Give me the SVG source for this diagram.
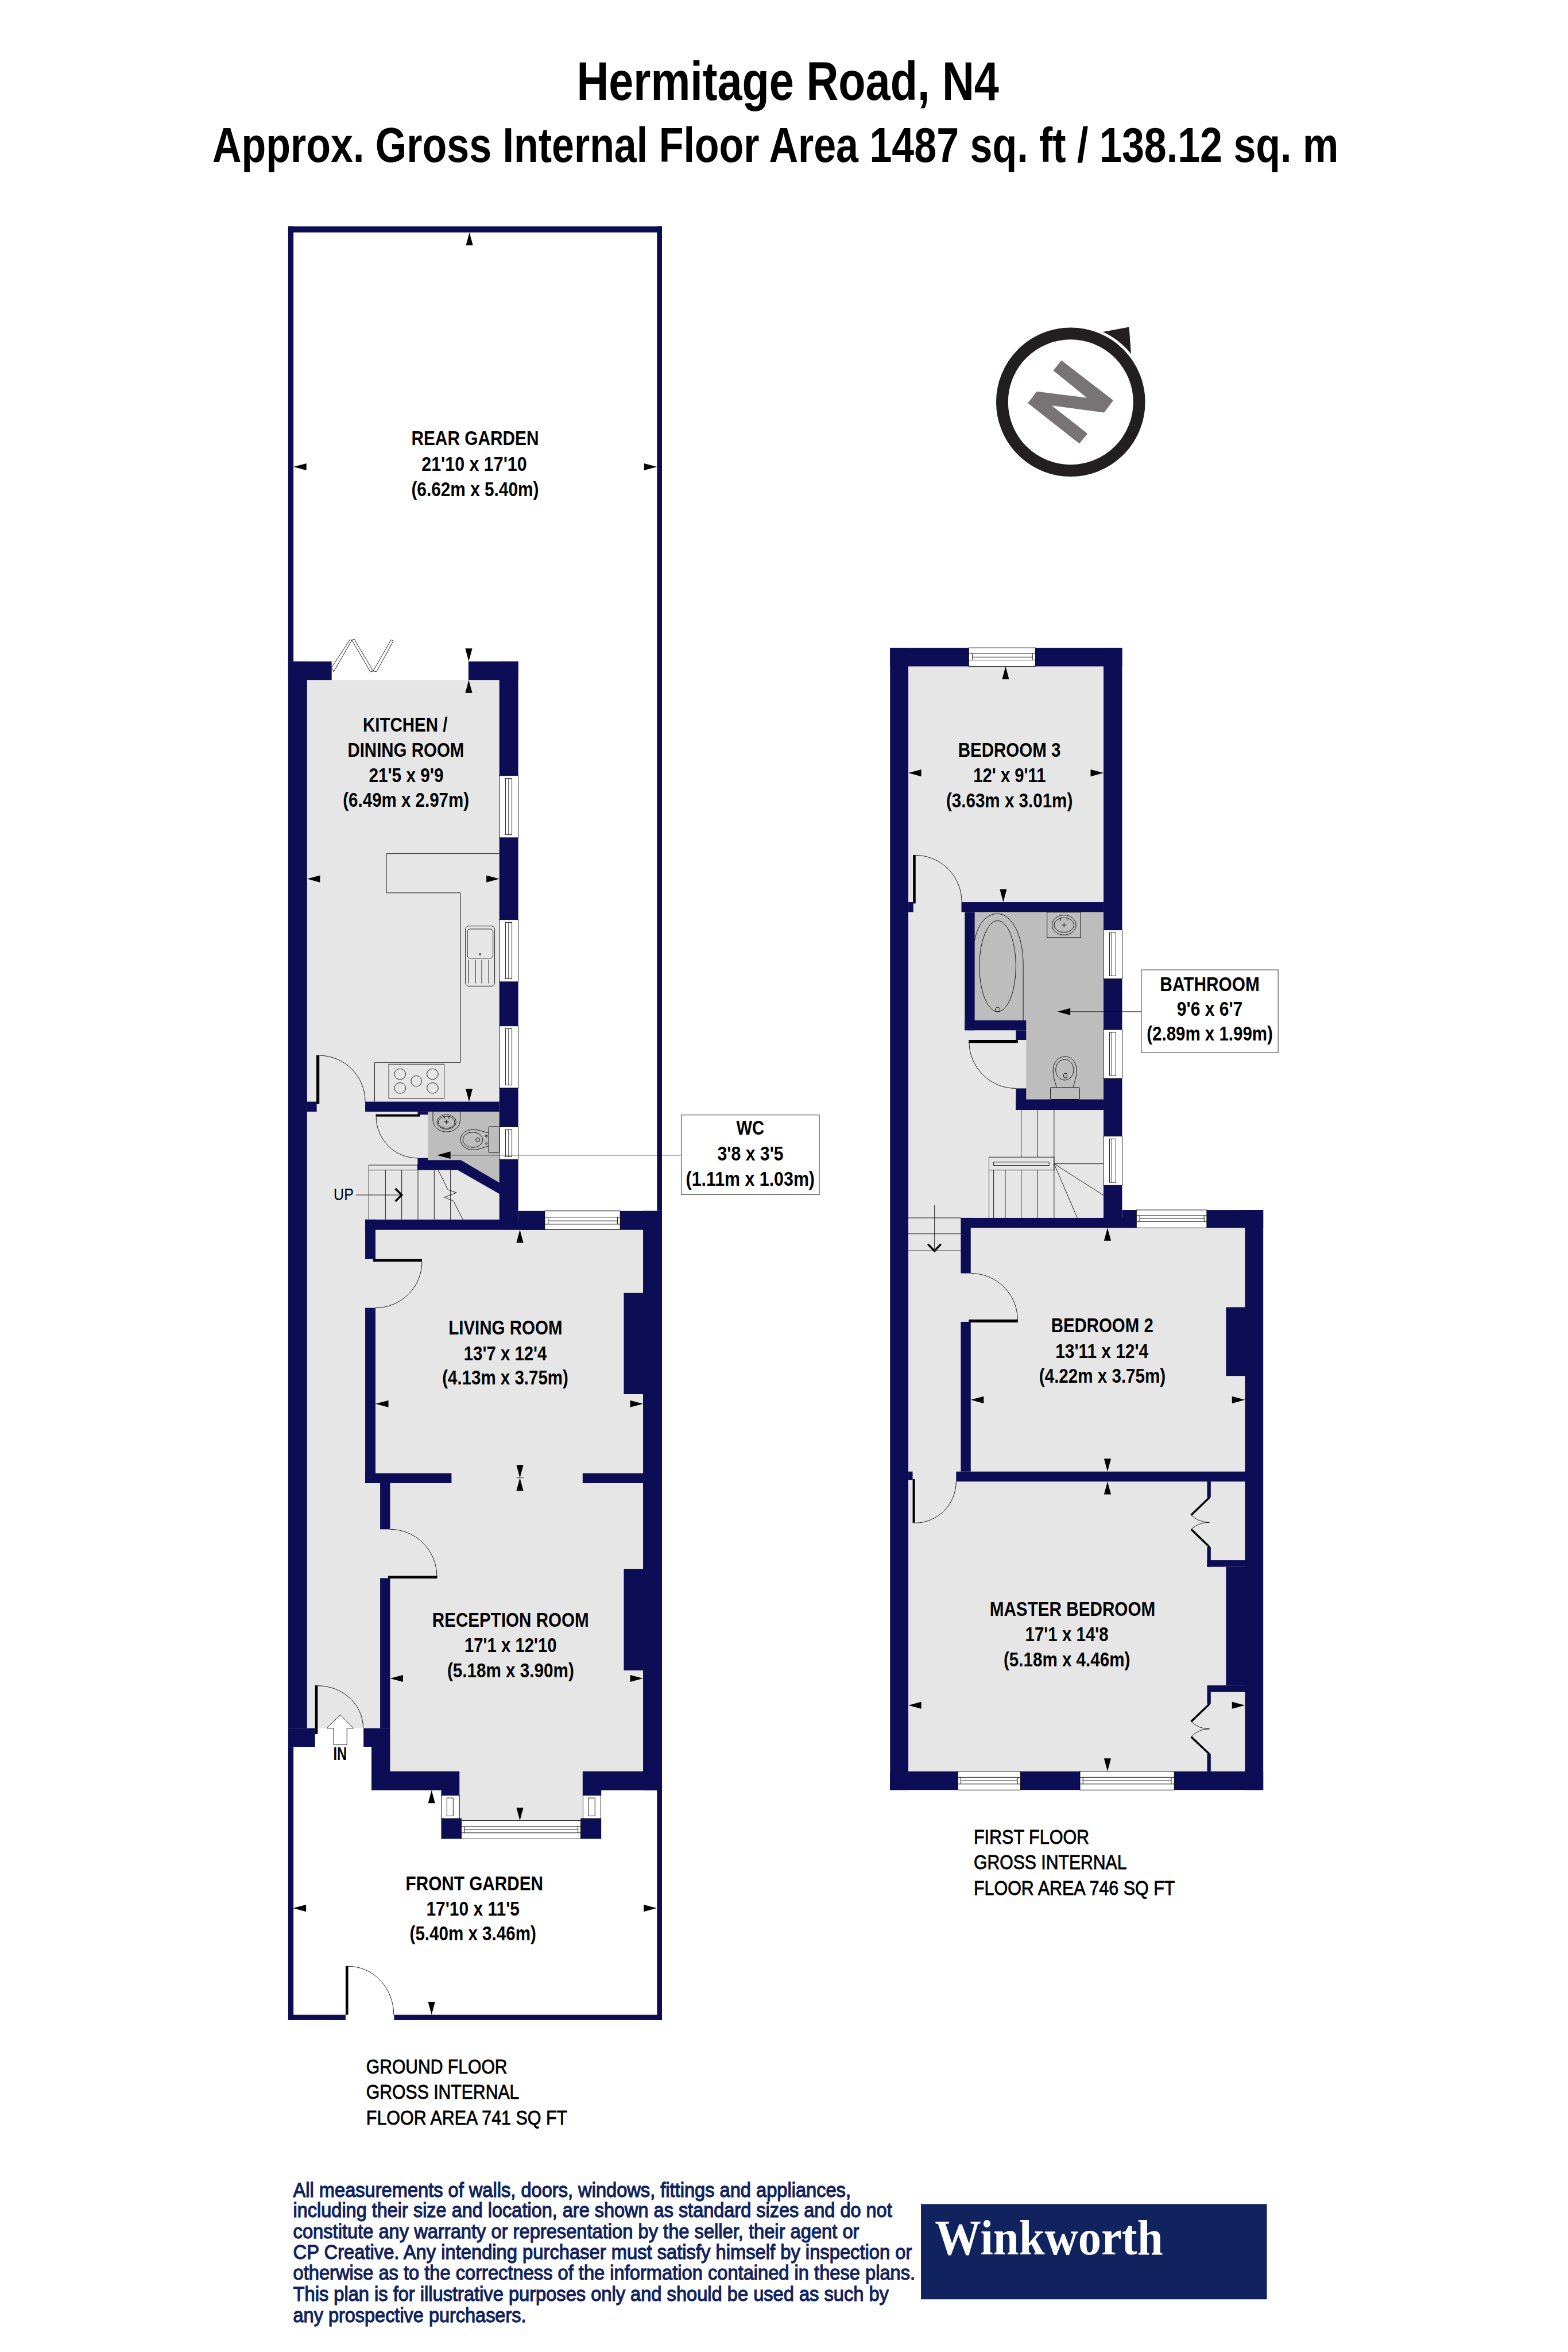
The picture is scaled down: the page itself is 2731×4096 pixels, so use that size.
<svg xmlns="http://www.w3.org/2000/svg" width="2731" height="4096" viewBox="0 0 2731 4096">
<style>
.w{fill:#0d0d56}
.f{fill:#e6e6e6}
.b{fill:#bdbdbd}
.t{fill:none;stroke:#000;stroke-width:1.5}
.tw{fill:#fff;stroke:#000;stroke-width:1.5}
.leaf{fill:#000}
.thick{fill:none;stroke:#000;stroke-width:6}
.l{font-family:"Liberation Sans",Arial,sans-serif;font-weight:700;font-size:62px;fill:#000}
.h{font-family:"Liberation Sans",Arial,sans-serif;font-weight:700;fill:#000}
.n{font-family:"Liberation Sans",Arial,sans-serif;font-weight:400;font-size:60px;fill:#11235f;stroke:#11235f;stroke-width:2.2}
</style>
<defs>
<polygon id="ar" points="0,0 -39,-10.5 -39,10.5"/>
</defs>
<rect width="2731" height="4096" fill="#fff"/>
<g transform="scale(0.57823)">
<g id="title">
<text class="h" font-size="165" x="1737" y="301" textLength="1272" lengthAdjust="spacingAndGlyphs">Hermitage Road, N4</text>
<text class="h" font-size="147" transform="translate(640,488) scale(0.822,1)" x="0" y="0" textLength="4126" lengthAdjust="spacingAndGlyphs">Approx. Gross Internal Floor Area 1487 sq. ft / 138.12 sq. m</text>
</g>
<g id="compass">
<circle cx="3225" cy="1211" r="206.5" fill="none" stroke="#231f20" stroke-width="36"/>
<path d="M3322 999.500L3401 985L3407 1066A232 232 0 0 0 3322 999.500Z" fill="#231f20"/>
<polygon points="3197,1085 3353.500,1206 3325.600,1242.500 3168,1221.500 3276,1306 3251,1336 3096,1214 3123,1179 3274,1198 3172.500,1116" fill="#787476"/>
</g>

<g id="ground-floor">
<g id="ground-floors">
<polygon class="f" points="925,2048 1504,2048 1504,3673 1131,3673 1131,3704 1937,3704 1937,5335 1755,5335 1755,5483 1384,5483 1384,5335 1175,5335 1175,5205 925,5205"/>
<polygon class="b" points="1289,3348 1504.500,3348 1504.500,3562 1388,3494 1289,3494"/>
</g>
<g id="ground-walls">
<rect class="w" x="868" y="682" width="1126" height="18"/>
<rect class="w" x="868" y="682" width="16" height="1310"/>
<rect class="w" x="1979" y="682" width="15" height="2965"/>
<rect class="w" x="868" y="1992" width="57" height="3213"/>
<rect class="w" x="868" y="1992" width="131" height="56"/>
<rect class="w" x="1411" y="1992" width="150" height="56"/>
<rect class="w" x="1504" y="1992" width="57" height="1711"/>
<rect class="w" x="925" y="3318" width="29" height="30"/>
<rect class="w" x="1100" y="3318" width="404" height="30"/>
<rect class="w" x="1258" y="3348" width="31" height="9"/>
<polygon class="w" points="1258,3488 1289,3488 1289,3494 1388,3494 1504.500,3562 1504.500,3596 1379,3524 1258,3524"/>
<rect class="w" x="1100" y="3673" width="541" height="31"/>
<rect class="w" x="1561" y="3647" width="433" height="57"/>
<rect class="w" x="1937" y="3647" width="57" height="1745"/>
<rect class="w" x="1100" y="3673" width="31" height="119"/>
<rect class="w" x="1100" y="3939" width="31" height="528"/>
<rect class="w" x="1100" y="4437" width="260" height="30"/>
<rect class="w" x="1755" y="4437" width="190" height="30"/>
<rect class="w" x="1145" y="4467" width="30" height="139"/>
<rect class="w" x="1145" y="4753" width="30" height="452"/>
<rect class="w" x="1879" y="3894" width="66" height="305"/>
<rect class="w" x="1879" y="4725" width="66" height="306"/>
<rect class="w" x="868" y="5205" width="81" height="56"/>
<polygon class="w" points="1095,5205 1175,5205 1175,5335 1384,5335 1384,5407 1329,5407 1329,5392 1119,5392 1119,5261 1095,5261"/>
<polygon class="w" points="1755,5335 1994,5335 1994,5392 1811,5392 1811,5407 1755,5407"/>
<rect class="w" x="1329" y="5476" width="61" height="62"/>
<rect class="w" x="1749" y="5476" width="62" height="62"/>
<rect class="w" x="868" y="5261" width="16" height="823"/>
<rect class="w" x="1979" y="5392" width="15" height="692"/>
<rect class="w" x="868" y="6068" width="173" height="16"/>
<rect class="w" x="1187" y="6068" width="807" height="16"/>
</g>
<g id="ground-windows">
<g><rect class="tw" x="1504" y="2336" width="57" height="187"/><rect class="t" x="1523" y="2344" width="19" height="170"/><path class="t" d="M1532 2344V2514"/></g>
<g><rect class="tw" x="1504" y="2770" width="57" height="187"/><rect class="t" x="1523" y="2778" width="19" height="170"/><path class="t" d="M1532 2778V2948"/></g>
<g><rect class="tw" x="1504" y="3090" width="57" height="187"/><rect class="t" x="1523" y="3098" width="19" height="170"/><path class="t" d="M1532 3098V3268"/></g>
<g><rect class="tw" x="1504" y="3394" width="57" height="98"/><rect class="t" x="1523" y="3402" width="19" height="82"/><path class="t" d="M1532 3402V3484"/></g>
<g><rect class="tw" x="1641" y="3647" width="227" height="56"/><path class="t" d="M1641 3666H1868M1641 3687H1868M1651 3666V3687M1860 3666V3687M1651 3677H1860"/></g>
<g><rect class="tw" x="1329" y="5407" width="55" height="70"/><rect class="t" x="1346" y="5415" width="19" height="54"/></g>
<g><rect class="tw" x="1756" y="5407" width="54" height="70"/><rect class="t" x="1772" y="5415" width="20" height="54"/></g>
<g><rect class="tw" x="1390" y="5483" width="359" height="55"/><path class="t" d="M1390 5501H1749M1390 5520H1749M1399 5501V5520M1741 5501V5520M1399 5510H1741"/></g>
<g id="bifold-door"><polygon class="t" points="999,2010 1054,1927 1060,1928 1005,2023"/><polygon class="t" points="1060,1928 1067,1925 1124,2021 1116,2024"/><polygon class="t" points="1124,2021 1134,2023 1185,1930 1178,1927"/></g>
</g>
<g id="ground-doors">
<rect class="leaf" x="953" y="3178" width="9" height="147"/><path class="t" d="M962 3179A138 139 0 0 1 1100 3318"/>
<rect class="leaf" x="1132" y="3356" width="133" height="7"/><path class="t" d="M1133 3363A125 125 0 0 0 1258 3488"/>
<rect class="leaf" x="1124" y="3792" width="147" height="8"/><path class="t" d="M1271 3800A140 139 0 0 1 1131 3939"/>
<rect class="leaf" x="1169" y="4746" width="148" height="8"/><path class="t" d="M1175 4606A141 142 0 0 1 1316 4748"/>
<rect class="leaf" x="949" y="5076" width="8" height="147"/><path class="t" d="M957 5077A137 128 0 0 1 1094 5205"/>
<rect class="leaf" x="1041" y="5921" width="8" height="147"/><path class="t" d="M1049 5922A137 146 0 0 1 1186 6068"/>
<polygon class="tw" points="1025,5165 1065,5205 1045,5205 1045,5255 1005,5255 1005,5205 984,5205"/>
</g>
<g id="kitchen-fittings">
<path class="t" d="M1504 2571H1164V2689H1387V3200H1128.500V3318"/>
<rect class="t" x="1402" y="2789" width="88" height="181" rx="10"/>
<rect class="t" x="1408" y="2798" width="77" height="88" rx="8"/>
<circle class="t" cx="1446" cy="2874" r="2.500"/>
<path class="t" d="M1411 2891V2962M1432 2891V2962M1451 2891V2962M1472 2891V2962"/>
<rect class="t" x="1171" y="3205" width="167" height="103"/>
<ellipse class="t" cx="1205" cy="3235" rx="17" ry="16"/><ellipse class="t" cx="1205" cy="3277" rx="17" ry="16"/><ellipse class="t" cx="1303" cy="3235" rx="17" ry="16"/><ellipse class="t" cx="1303" cy="3277" rx="17" ry="16"/><ellipse class="t" cx="1254" cy="3256" rx="16" ry="16"/>
</g>
<g id="wc-fittings">
<path class="t" d="M1304 3348V3372C1304 3396 1325 3409 1345 3409C1366 3409 1386 3396 1386 3372V3348"/>
<ellipse class="t" cx="1345" cy="3379" rx="29" ry="22"/><ellipse class="t" cx="1345" cy="3380" rx="25" ry="18"/>
<path class="t" d="M1339 3362V3370M1352 3362V3370M1338 3379H1352M1345 3372V3386"/>
<circle cx="1345" cy="3379" r="2.500"/>
<rect class="t" x="1472" y="3393" width="32.500" height="79" rx="3"/>
<path class="t" d="M1471 3412C1455 3408 1440 3402 1425 3402C1400 3402 1387 3418 1387 3432C1387 3448 1402 3463 1425 3463C1442 3463 1455 3456 1471 3452"/>
<ellipse class="t" cx="1424" cy="3433" rx="30" ry="23"/><circle class="t" cx="1439" cy="3433" r="6"/>
<rect class="t" x="1463" y="3420" width="4" height="4"/><rect class="t" x="1463" y="3442" width="4" height="4"/>
</g>
<g id="ground-stairs">
<rect class="t" x="1111" y="3509" width="147" height="15"/>
<path class="t" d="M1111 3524V3673M1161 3524V3673M1210 3524V3673M1259 3524V3673M1308 3524V3673M1357 3524V3673"/>
<path class="t" d="M1320 3524L1349 3583L1375 3592L1339 3606L1366 3617L1394 3673"/>
<path class="t" d="M1072 3599H1210"/>
<path class="thick" d="M1191 3580L1210 3599L1191 3618"/>
<text id="up-label" x="1005" y="3615" font-family="'Liberation Sans',Arial,sans-serif" font-size="52" textLength="60" lengthAdjust="spacingAndGlyphs" fill="#000">UP</text>
</g>
<g id="room-rear-garden"><text class="l" x="1239" y="1341" textLength="384" lengthAdjust="spacingAndGlyphs">REAR GARDEN</text><text class="l" x="1270" y="1418" textLength="317" lengthAdjust="spacingAndGlyphs">21'10 x 17'10</text><text class="l" x="1239" y="1494" textLength="384" lengthAdjust="spacingAndGlyphs">(6.62m x 5.40m)</text></g>
<g id="room-kitchen"><text class="l" x="1093" y="2204" textLength="255" lengthAdjust="spacingAndGlyphs">KITCHEN /</text><text class="l" x="1047" y="2280" textLength="351" lengthAdjust="spacingAndGlyphs">DINING ROOM</text><text class="l" x="1111" y="2356" textLength="225" lengthAdjust="spacingAndGlyphs">21'5 x 9'9</text><text class="l" x="1033" y="2429" textLength="380" lengthAdjust="spacingAndGlyphs">(6.49m x 2.97m)</text></g>
<g id="room-living"><text class="l" x="1351" y="4020" textLength="343" lengthAdjust="spacingAndGlyphs">LIVING ROOM</text><text class="l" x="1397" y="4097" textLength="250" lengthAdjust="spacingAndGlyphs">13'7 x 12'4</text><text class="l" x="1332" y="4170" textLength="380" lengthAdjust="spacingAndGlyphs">(4.13m x 3.75m)</text></g>
<g id="room-reception"><text class="l" x="1302" y="4900" textLength="472" lengthAdjust="spacingAndGlyphs">RECEPTION ROOM</text><text class="l" x="1399" y="4976" textLength="278" lengthAdjust="spacingAndGlyphs">17'1 x 12'10</text><text class="l" x="1347" y="5051" textLength="382" lengthAdjust="spacingAndGlyphs">(5.18m x 3.90m)</text></g>
<g id="room-front-garden"><text class="l" x="1222" y="5693" textLength="414" lengthAdjust="spacingAndGlyphs">FRONT GARDEN</text><text class="l" x="1284" y="5770" textLength="281" lengthAdjust="spacingAndGlyphs">17'10 x 11'5</text><text class="l" x="1234" y="5844" textLength="381" lengthAdjust="spacingAndGlyphs">(5.40m x 3.46m)</text></g>
<g id="in-label"><text class="l" style="font-size:53px" x="1004" y="5301" textLength="41" lengthAdjust="spacingAndGlyphs">IN</text></g>
<g id="wc-label"><rect x="2052" y="3358" width="416" height="240" fill="#fff" stroke="#555" stroke-width="2"/><text class="l" x="2218" y="3418" textLength="84" lengthAdjust="spacingAndGlyphs">WC</text><text class="l" x="2161" y="3495" textLength="199" lengthAdjust="spacingAndGlyphs">3'8 x 3'5</text><text class="l" x="2066" y="3572" textLength="388" lengthAdjust="spacingAndGlyphs">(1.11m x 1.03m)</text></g>
<g id="ground-caption"><text class="l" style="font-weight:400" x="1103" y="6245" textLength="425" lengthAdjust="spacingAndGlyphs" stroke="#000" stroke-width="1.500">GROUND FLOOR</text><text class="l" style="font-weight:400" x="1103" y="6321" textLength="461" lengthAdjust="spacingAndGlyphs" stroke="#000" stroke-width="1.500">GROSS INTERNAL</text><text class="l" style="font-weight:400" x="1103" y="6398" textLength="606" lengthAdjust="spacingAndGlyphs" stroke="#000" stroke-width="1.500">FLOOR AREA 741 SQ FT</text></g>
</g>

<g id="first-floor">
<g id="first-floors">
<polygon class="f" points="2736,2007 3324,2007 3324,3668 2924,3668 2924,3698 3750,3698 3750,5335 2736,5335"/>
<polygon class="b" points="2936,2747 3324,2747 3324,3311 3091,3311 3091,3073 2936,3073"/>
</g>
<g id="first-walls">
<rect class="w" x="2681" y="1951" width="699" height="56"/>
<rect class="w" x="2681" y="1951" width="55" height="3440"/>
<rect class="w" x="3324" y="1951" width="56" height="1747"/>
<rect class="w" x="2736" y="2717" width="15" height="30"/>
<rect class="w" x="2896" y="2717" width="428" height="30"/>
<rect class="w" x="2906" y="2747" width="30" height="356"/>
<rect class="w" x="2906" y="3073" width="185" height="30"/>
<rect class="w" x="3060" y="3103" width="31" height="29"/>
<rect class="w" x="3060" y="3278" width="31" height="65"/>
<rect class="w" x="3060" y="3311" width="264" height="32"/>
<rect class="w" x="2895" y="3668" width="528" height="30"/>
<rect class="w" x="3380" y="3644" width="425" height="54"/>
<rect class="w" x="3750" y="3644" width="55" height="1747"/>
<rect class="w" x="2681" y="5335" width="1124" height="56"/>
<rect class="w" x="2894" y="3668" width="30" height="167"/>
<rect class="w" x="2894" y="3981" width="30" height="451"/>
<rect class="w" x="2880" y="4432" width="878" height="30"/>
<rect class="w" x="2736" y="4432" width="13" height="25"/>
<rect class="w" x="3693" y="3937" width="65" height="207"/>
<rect class="w" x="3636" y="4462" width="11" height="48"/>
<rect class="w" x="3636" y="4659" width="11" height="60"/>
<rect class="w" x="3636" y="4699" width="122" height="20"/>
<rect class="w" x="3693" y="4719" width="65" height="357"/>
<rect class="w" x="3636" y="5076" width="122" height="20"/>
<rect class="w" x="3636" y="5096" width="11" height="36"/>
<rect class="w" x="3636" y="5283" width="11" height="52"/>
</g>
<g id="first-windows">
<g><rect class="tw" x="2918" y="1951" width="201" height="56"/><path class="t" d="M2918 1968H3119M2918 1988H3119M2929 1968V1988M3110 1968V1988M2929 1979H3110"/></g>
<g><rect class="tw" x="3324" y="2801" width="56" height="147"/><rect class="t" x="3342" y="2809" width="19" height="130"/><path class="t" d="M3349 2809V2939"/></g>
<g><rect class="tw" x="3324" y="3101" width="56" height="147"/><rect class="t" x="3342" y="3109" width="19" height="130"/><path class="t" d="M3349 3109V3239"/></g>
<g><rect class="tw" x="3324" y="3422" width="56" height="148"/><rect class="t" x="3342" y="3430" width="19" height="131"/><path class="t" d="M3349 3430V3561"/></g>
<g><rect class="tw" x="3423" y="3644" width="212" height="54"/><path class="t" d="M3423 3661H3635M3423 3679H3635M3433 3661V3679M3627 3661V3679M3433 3670H3627"/></g>
<g><rect class="tw" x="2885" y="5335" width="189" height="56"/><path class="t" d="M2885 5353H3074M2885 5373H3074M2894 5353V5373M3065 5353V5373M2894 5363H3065"/></g>
<g><rect class="tw" x="3253" y="5335" width="284" height="56"/><path class="t" d="M3253 5353H3537M3253 5373H3537M3262 5353V5373M3528 5353V5373M3262 5363H3528"/></g>
</g>
<g id="first-doors">
<rect class="leaf" x="2750" y="2575" width="8" height="146"/><path class="t" d="M2758 2576A139 141 0 0 1 2897 2717"/>
<rect class="leaf" x="2918" y="3132" width="148" height="9"/><path class="t" d="M2919 3137A141 141 0 0 0 3060 3278"/>
<rect class="leaf" x="2918" y="3974" width="148" height="9"/><path class="t" d="M2924 3835A141 139 0 0 1 3065 3974"/>
<rect class="leaf" x="2749" y="4455" width="7" height="132"/><path class="t" d="M2880 4462A125 125 0 0 1 2756 4587"/>
<path class="thick" d="M3643 4510L3588 4563M3588 4606L3643 4659M3643 5132L3588 5185M3588 5231L3643 5283"/>
<path class="t" d="M3588 4563Q3610 4585 3643 4585Q3610 4585 3588 4606M3588 5185Q3610 5207 3643 5207Q3610 5207 3588 5231"/>
</g>
<g id="bathroom-fittings">
<path class="t" d="M2936 2832C2944 2785 2970 2752 3004 2752C3050 2752 3082 2820 3082 2906V3073"/>
<ellipse class="t" cx="3005" cy="2910" rx="55" ry="137"/><circle class="t" cx="3005" cy="3041" r="7"/>
<rect class="t" x="3154" y="2747" width="101" height="77"/>
<ellipse class="t" cx="3205" cy="2786" rx="36" ry="30"/><ellipse class="t" cx="3205" cy="2786" rx="30" ry="22"/>
<path class="t" d="M3195 2764V2774M3214 2764V2774M3198 2786H3212M3205 2779V2793"/>
<rect class="t" x="3164" y="3275" width="88" height="36" rx="3"/>
<path class="t" d="M3183 3275C3176 3255 3172 3240 3172 3224C3172 3200 3188 3182 3208 3182C3228 3182 3243 3200 3243 3224C3243 3240 3238 3255 3232 3275"/>
<ellipse class="t" cx="3207" cy="3222" rx="27" ry="31"/><rect class="t" x="3204" y="3233" width="10" height="13" rx="3"/>
</g>
<g id="first-stairs">
<path class="t" d="M3076 3343V3485M3125 3343V3485M3175 3343V3668"/>
<rect class="t" x="2979" y="3485" width="196" height="39"/>
<rect class="t" x="2993" y="3500" width="167" height="10"/>
<path class="t" d="M2979 3524V3668M2993 3524V3668M3028 3524V3668M3076 3524V3668M3125 3524V3668"/>
<path class="t" d="M3175 3505H3324M3175 3505L3324 3600M3175 3505L3245 3668"/>
<path class="t" d="M2736 3668H2895M2736 3716H2894M2736 3767H2894M2815 3629V3768"/>
<path class="thick" d="M2795 3747L2815 3768L2834 3747"/>
</g>
<g id="room-bedroom-3"><text class="l" x="2886" y="2280" textLength="309" lengthAdjust="spacingAndGlyphs">BEDROOM 3</text><text class="l" x="2932" y="2355" textLength="218" lengthAdjust="spacingAndGlyphs">12' x 9'11</text><text class="l" x="2850" y="2431" textLength="381" lengthAdjust="spacingAndGlyphs">(3.63m x 3.01m)</text></g>
<g id="room-bedroom-2"><text class="l" x="3166" y="4013" textLength="308" lengthAdjust="spacingAndGlyphs">BEDROOM 2</text><text class="l" x="3179" y="4090" textLength="280" lengthAdjust="spacingAndGlyphs">13'11 x 12'4</text><text class="l" x="3130" y="4165" textLength="381" lengthAdjust="spacingAndGlyphs">(4.22m x 3.75m)</text></g>
<g id="room-master-bedroom"><text class="l" x="2981" y="4867" textLength="499" lengthAdjust="spacingAndGlyphs">MASTER BEDROOM</text><text class="l" x="3088" y="4943" textLength="251" lengthAdjust="spacingAndGlyphs">17'1 x 14'8</text><text class="l" x="3023" y="5018" textLength="381" lengthAdjust="spacingAndGlyphs">(5.18m x 4.46m)</text></g>
<g id="bathroom-label"><rect x="3438" y="2921" width="412" height="249" fill="#fff" stroke="#555" stroke-width="2"/><text class="l" x="3494" y="2985" textLength="300" lengthAdjust="spacingAndGlyphs">BATHROOM</text><text class="l" x="3545" y="3060" textLength="198" lengthAdjust="spacingAndGlyphs">9'6 x 6'7</text><text class="l" x="3454" y="3134" textLength="380" lengthAdjust="spacingAndGlyphs">(2.89m x 1.99m)</text></g>
<g id="first-caption"><text class="l" style="font-weight:400" x="2933" y="5553" textLength="348" lengthAdjust="spacingAndGlyphs" stroke="#000" stroke-width="1.500">FIRST FLOOR</text><text class="l" style="font-weight:400" x="2933" y="5630" textLength="461" lengthAdjust="spacingAndGlyphs" stroke="#000" stroke-width="1.500">GROSS INTERNAL</text><text class="l" style="font-weight:400" x="2933" y="5707" textLength="606" lengthAdjust="spacingAndGlyphs" stroke="#000" stroke-width="1.500">FLOOR AREA 746 SQ FT</text></g>
</g>

<g id="connectors">
<path class="t" d="M1350 3479H2052"/>
<path class="t" d="M3224 3047H3438"/>
<path class="t" d="M1556 4451H1577"/>
<use href="#ar" transform="translate(1316,3479) rotate(180) scale(1.050)"/>
<use href="#ar" transform="translate(3185,3047) rotate(180)"/>
<use href="#ar" transform="translate(1414,700) rotate(-90)"/>
<use href="#ar" transform="translate(884,1406) rotate(180)"/>
<use href="#ar" transform="translate(1979,1406)"/>
<use href="#ar" transform="translate(1412,1992) rotate(90)"/>
<use href="#ar" transform="translate(1412,2048) rotate(-90)"/>
<use href="#ar" transform="translate(925,2647) rotate(180)"/>
<use href="#ar" transform="translate(1504,2647)"/>
<use href="#ar" transform="translate(1413,3318) rotate(90)"/>
<use href="#ar" transform="translate(1566,3704) rotate(-90)"/>
<use href="#ar" transform="translate(1131,4228) rotate(180)"/>
<use href="#ar" transform="translate(1937,4228)"/>
<use href="#ar" transform="translate(1566,4451) rotate(90)"/>
<use href="#ar" transform="translate(1566,4451) rotate(-90)"/>
<use href="#ar" transform="translate(1175,5055) rotate(180)"/>
<use href="#ar" transform="translate(1937,5055)"/>
<use href="#ar" transform="translate(1566,5483) rotate(90)"/>
<use href="#ar" transform="translate(1300,5392) rotate(-90)"/>
<use href="#ar" transform="translate(883,5747) rotate(180)"/>
<use href="#ar" transform="translate(1978,5747)"/>
<use href="#ar" transform="translate(1300,6068) rotate(90)"/>
<use href="#ar" transform="translate(3029,2007) rotate(-90)"/>
<use href="#ar" transform="translate(2736,2328) rotate(180)"/>
<use href="#ar" transform="translate(3324,2328)"/>
<use href="#ar" transform="translate(3022,2717) rotate(90)"/>
<use href="#ar" transform="translate(3336,3698) rotate(-90)"/>
<use href="#ar" transform="translate(2924,4216) rotate(180)"/>
<use href="#ar" transform="translate(3750,4216)"/>
<use href="#ar" transform="translate(3336,4432) rotate(90)"/>
<use href="#ar" transform="translate(3336,4462) rotate(-90)"/>
<use href="#ar" transform="translate(3336,5335) rotate(90)"/>
<use href="#ar" transform="translate(2736,5136) rotate(180)"/>
<use href="#ar" transform="translate(3750,5136)"/>
</g>

<g id="disclaimer">
<text class="n" x="883" y="6616" textLength="1680" lengthAdjust="spacingAndGlyphs">All measurements of walls, doors, windows, fittings and appliances,</text>
<text class="n" x="883" y="6678" textLength="1804" lengthAdjust="spacingAndGlyphs">including their size and location, are shown as standard sizes and do not</text>
<text class="n" x="883" y="6741" textLength="1705" lengthAdjust="spacingAndGlyphs">constitute any warranty or representation by the seller, their agent or</text>
<text class="n" x="883" y="6803" textLength="1864" lengthAdjust="spacingAndGlyphs">CP Creative. Any intending purchaser must satisfy himself by inspection or</text>
<text class="n" x="883" y="6866" textLength="1874" lengthAdjust="spacingAndGlyphs">otherwise as to the correctness of the information contained in these plans.</text>
<text class="n" x="883" y="6930" textLength="1794" lengthAdjust="spacingAndGlyphs">This plan is for illustrative purposes only and should be used as such by</text>
<text class="n" x="883" y="6993" textLength="702" lengthAdjust="spacingAndGlyphs">any prospective purchasers.</text>
</g>
<g id="logo">
<rect x="2774" y="6638" width="1042" height="287" fill="#11235f"/>
<text x="2816" y="6789" font-family="'Liberation Serif','Times New Roman',serif" font-weight="700" font-size="150" textLength="687" lengthAdjust="spacingAndGlyphs" fill="#fff">Winkworth</text>
</g>
</g>
</svg>
